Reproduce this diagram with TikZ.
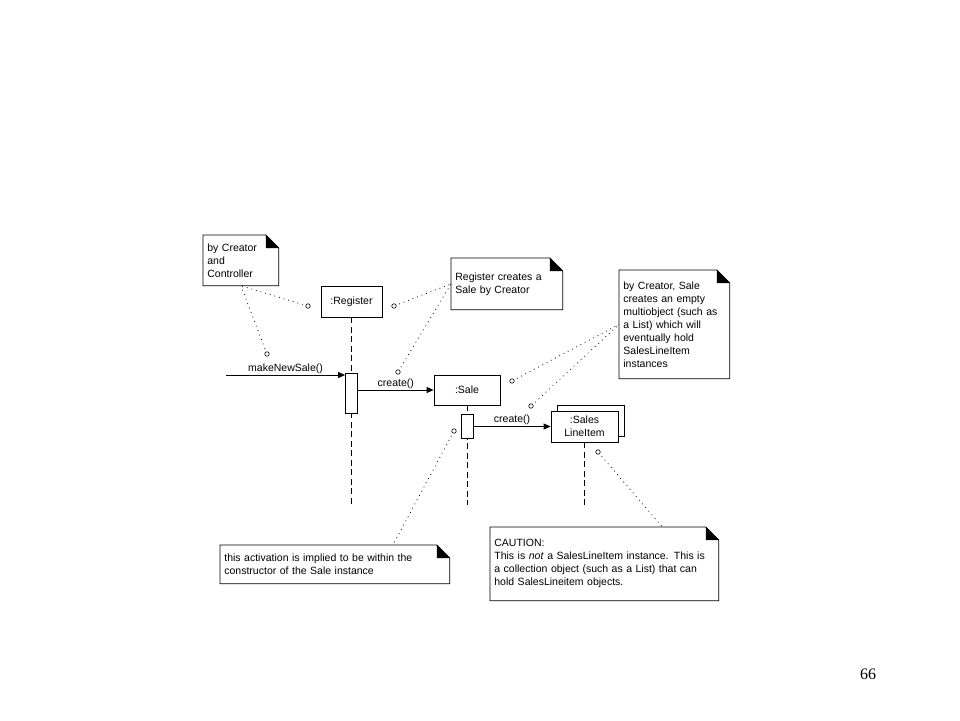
\documentclass[tikz,border=0pt]{standalone}
\usepackage{fontspec}
\setmainfont{Liberation Sans}
\newfontfamily\patkovy{Liberation Serif}
\usepackage{tikz}
\usetikzlibrary{arrows.meta, positioning}

\newcommand{\ohyb}[1]{%
  \draw (#1.north west) -- ([xshift=-13pt]#1.north east) -- ([yshift=-13pt]#1.north east)
    -- (#1.south east) -- (#1.south west) -- cycle;
  \fill ([xshift=-13pt]#1.north east) -- ([yshift=-13pt]#1.north east)
    -- ([xshift=-13pt,yshift=-13pt]#1.north east) -- cycle;}

\begin{document}
\begin{tikzpicture}[x=1pt, y=-1pt, font=\fontsize{10.5}{13}\selectfont,
  >={Triangle[length=7pt,width=6pt]}, thick,
  objekt/.style={draw, fill=white, inner sep=2pt},
  aktivace/.style={draw, fill=white, minimum width=12pt, inner sep=0pt},
  pozn/.style={anchor=north west, align=left, inner xsep=4pt, inner ysep=0pt},
  kotva/.style={circle, draw, minimum size=4.5pt, inner sep=0pt, line width=0.6pt},
  tecky/.style={line width=0.8pt, dash pattern=on 0.8pt off 4pt, shorten <=3pt},
  zivot/.style={dash pattern=on 6pt off 3.5pt}]
  \useasboundingbox (0,0) rectangle (960,720);
  % Objekty
  \node[objekt, minimum width=61pt, minimum height=31pt] (reg) at (351.5,301.5) {:Register};
  \node[objekt, minimum width=66pt, minimum height=30pt] (sale) at (467,390) {:Sale};
  \node[objekt, minimum width=67pt, minimum height=31pt] (sliB) at (590.5,420.5) {};
  \node[objekt, minimum width=67pt, minimum height=31pt, align=center] (sli) at (584.5,426.5) {:Sales\\LineItem};
  % Cary zivota
  \coordinate (dno) at (0,505);
  \draw[zivot] (reg.south) -- (reg.south |- dno);
  \draw[zivot] (sale.south) -- (sale.south |- dno);
  \draw[zivot] (sli.south) -- (sli.south |- dno);
  \node[aktivace, minimum height=40pt] (akt1) at (351.5,393) {};
  \node[aktivace, minimum height=24pt] (akt2) at (467,426) {};
  % Zpravy
  \coordinate (vstup) at (226,375);
  \draw[->] (vstup) -- (vstup -| akt1.west)
    node[midway, above, inner sep=1pt] {makeNewSale()};
  \draw[->] (akt1.east |- sale.west) -- (sale.west)
    node[midway, above, inner sep=1pt] {create()};
  \draw[->] (akt2.east |- sli.west) -- (sli.west)
    node[midway, above, inner sep=1pt] {create()};
  % Poznamky
  \node[pozn, minimum width=75pt, minimum height=50pt, text width=67pt] (n1) at (203,235)
    {by Creator\\and\\Controller};
  \ohyb{n1}
  \node[pozn, minimum width=111pt, minimum height=51pt, text width=103pt] (n2) at (451,258)
    {Register creates a\\Sale by Creator};
  \ohyb{n2}
  \node[pozn, minimum width=110pt, minimum height=108pt, text width=102pt] (n3) at (619,270)
    {by Creator, Sale\\creates an empty\\multiobject (such as\\a List) which will\\eventually hold\\SalesLineItem\\instances};
  \ohyb{n3}
  \node[pozn, minimum width=229pt, minimum height=38pt, text width=221pt] (n4) at (220,545)
    {this activation is implied to be within the\\constructor of the Sale instance};
  \ohyb{n4}
  \node[pozn, minimum width=228pt, minimum height=73pt, text width=220pt] (n5) at (490,527)
    {CAUTION:\\This is \textit{not} a SalesLineItem instance. This is\\a collection object (such as a List) that can\\hold SalesLineitem objects.};
  \ohyb{n5}
  % Kotvy poznamek
  \node[kotva] (k1) at (308,306) {};
  \node[kotva] (k2) at (267,354) {};
  \node[kotva] (k3) at (394,306) {};
  \node[kotva] (k4) at (398,372) {};
  \node[kotva] (k5) at (512,381) {};
  \node[kotva] (k6) at (531,406) {};
  \node[kotva] (k7) at (454,431) {};
  \node[kotva] (k8) at (598,452) {};
  \draw[tecky] (k1) -- (n1.south);
  \draw[tecky] (k2) -- (n1.south);
  \draw[tecky] (k3) -- (n2.west);
  \draw[tecky] (k4) -- (n2.west);
  \draw[tecky] (k5) -- (n3.west);
  \draw[tecky] (k6) -- (n3.west);
  \draw[tecky] (k7) -- ([xshift=58pt]n4.north);
  \draw[tecky] (k8) -- ([xshift=58pt]n5.north);
  % Cislo strany
  \node[font=\patkovy\fontsize{16}{18}\selectfont] (strana) at (868,674) {66};
\end{tikzpicture}
\end{document}
